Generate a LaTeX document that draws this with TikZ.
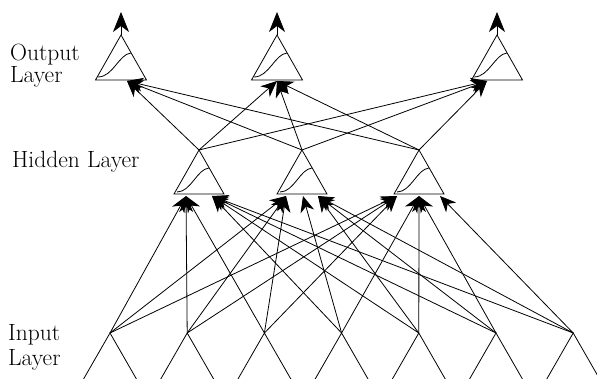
\documentclass[tikz,border=0pt]{standalone}
\usetikzlibrary{arrows.meta,calc}
\begin{document}
\begin{tikzpicture}[x={(1pt,0pt)},y={(0pt,-1pt)},
  ln/.style={line width=0.8pt},
  conn/.style={ln,-{Stealth[length=16pt,width=14pt,inset=5pt]}},
  uparrow/.style={ln,-{Stealth[length=20pt,width=16pt,inset=6pt]}},
  lbl/.style={anchor=base west,inner sep=0pt,font=\fontsize{23.5}{26}\selectfont}]
\useasboundingbox (0,0) rectangle (597,379);

% labels
\node[lbl] (outl1) at (10,61) {Output};
\node[lbl] (outl2) at (10,83) {Layer};
\node[lbl] (hidl) at (12,168) {Hidden Layer};
\node[lbl] (inl1) at (8,341) {Input};
\node[lbl] (inl2) at (8,365) {Layer};

% input nodes
\foreach \i/\x in {1/110,2/187.2,3/264.4,4/341.6,5/418.8,6/496,7/573.2}{
  \coordinate (in\i) at (\x,333);
  \coordinate (in\i l) at (\x-27,380);
  \coordinate (in\i r) at (\x+27,380);
  \draw[ln] (in\i l) -- (in\i) -- (in\i r);
}

% hidden nodes
\foreach \j/\x in {1/199,2/302,3/419}{
  \coordinate (h\j) at (\x,150);
  \draw[ln] (h\j) -- ++(-25,44) -- ++(50,0) -- cycle;
  \begin{scope}[shift={(h\j)}]
    \draw[ln] (-22,42) .. controls (-8,42) and (-2,19) .. (10,18);
  \end{scope}
}
% hidden targets
\coordinate (h1a) at (186,196);
\coordinate (h1b) at (212,196);
\coordinate (h2a) at (286,196);
\coordinate (h2b) at (303,196);
\coordinate (h2c) at (318,196);
\coordinate (h3a) at (397,196);
\coordinate (h3b) at (419,196);
\coordinate (h3c) at (440,196);

\foreach \i/\t in {1/a,2/a,3/a,4/b,5/b,6/b,7/b}{\draw[conn] (in\i) -- (h1\t);}
\foreach \i/\t in {1/a,2/a,3/a,4/b,5/c,6/c,7/c}{\draw[conn] (in\i) -- (h2\t);}
\foreach \i/\t in {1/a,2/a,3/a,4/b,5/b,6/b,7/c}{\draw[conn] (in\i) -- (h3\t);}

% output nodes
\foreach \j/\x/\t in {1/121/127,2/277/277,3/497/487}{
  \coordinate (o\j) at (\x,35);
  \coordinate (o\j top) at (\x,12);
  \coordinate (o\j in) at (\t,81);
  \draw[ln] (o\j) -- ++(-25.5,45) -- ++(51,0) -- cycle;
  \begin{scope}[shift={(o\j)}]
    \draw[ln] (-23,42) .. controls (-8,42) and (-2,19) .. (10,18);
  \end{scope}
  \draw[uparrow] (o\j) -- (o\j top);
  \foreach \h in {1,2,3}{\draw[conn] (h\h) -- (o\j in);}
}
\end{tikzpicture}
\end{document}
